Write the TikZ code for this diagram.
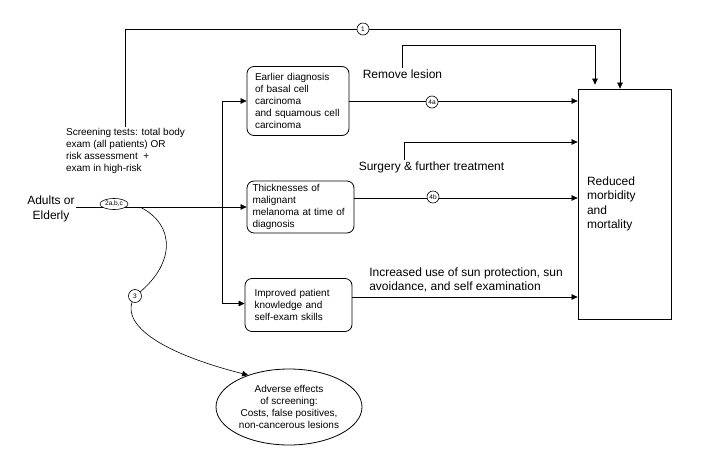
\documentclass[tikz,border=0pt]{standalone}
\usepackage{fontspec}
\setmainfont{Liberation Sans}
\usetikzlibrary{arrows.meta,positioning,shapes.geometric}

\begin{document}
\begin{tikzpicture}[x=1pt,y=-1pt,line width=0.6pt,
    >={Triangle[length=6pt,width=5.5pt]},
    box/.style={draw,line width=0.8pt,rounded corners=7pt,inner sep=0pt,
      align=left,font=\fontsize{10}{12}\selectfont},
    lbl/.style={align=left,inner sep=1pt,font=\fontsize{12}{14.5}\selectfont},
    kq/.style={draw,circle,fill=white,inner sep=0pt,minimum size=12pt,
      font=\fontsize{6.5}{6.5}\selectfont}]
  \useasboundingbox (0,0) rectangle (703,452);
  % Define nodes
  \node[lbl,align=center] (adults) at (51,209) {Adults or\\Elderly};
  \node[align=left,inner sep=1pt,font=\fontsize{10}{12}\selectfont] (screen) at (125.5,151)
    {Screening tests: total body\\exam (all patients) OR\\risk assessment \ +\\exam in high-risk};
  \node[box,minimum width=102pt,minimum height=69pt,text width=86pt] (diag) at (298,101)
    {Earlier diagnosis\\of basal cell\\carcinoma\\and squamous cell\\carcinoma};
  \node[box,minimum width=107pt,minimum height=52pt,text width=96pt] (thick) at (300.5,207)
    {Thicknesses of\\malignant\\melanoma at time of\\diagnosis};
  \node[box,minimum width=107pt,minimum height=53pt,text width=88pt] (know) at (298.5,305)
    {Improved patient\\knowledge and\\self-exam skills};
  \node[draw,line width=0.8pt,minimum width=93pt,minimum height=230pt,inner sep=0pt,
    text width=75pt,align=left,font=\fontsize{12}{14.5}\selectfont] (reduced) at (624.5,204)
    {Reduced\\morbidity\\and\\mortality};
  \node[draw,ellipse,line width=0.8pt,minimum width=146pt,minimum height=76pt,inner sep=0pt,
    align=center,font=\fontsize{10}{12}\selectfont] (adverse) at (289,407)
    {Adverse effects\\of screening:\\Costs, false positives,\\non-cancerous lesions};
  \node[lbl] (lesion) at (402.5,74) {Remove lesion};
  \node[lbl] (surgery) at (431.5,167) {Surgery \& further treatment};
  \node[lbl] (sun) at (466,280) {Increased use of sun protection, sun\\avoidance, and self examination};
  % Corners
  \coordinate (c1) at (620,29);
  \coordinate (c2) at (595,45);
  \coordinate (c3) at (404,142);
  \coordinate (split) at (222,207);
  \coordinate (fork) at (140,207);
  % Connectors
  \draw[->] (screen.north) |- (c1) -- (c1 |- reduced.north);
  \draw[->,shorten >=4pt] (lesion.north) |- (c2) -- (c2 |- reduced.north);
  \draw[->] (surgery.north -| c3) -- (c3) -- (c3 -| reduced.west);
  \draw[->] (adults.east |- split) -- (thick.west |- split);
  \draw[->] (diag.west -| split) -- (diag.west);
  \draw[->] (diag.west -| split) |- ([yshift=1.5pt]know.west);
  \draw[->] (diag.east) -- (diag.east -| reduced.west);
  \draw[->] ([yshift=9pt]thick.east) -- ([yshift=9pt]thick.east -| reduced.west);
  \draw[->] ([yshift=8pt]know.east) -- ([yshift=8pt]know.east -| reduced.west);
  \draw (fork) .. controls (176,225) and (176,265) .. (135,296);
  \draw[->] (135,296) .. controls (119,320) and (150,350) .. (adverse.142);
  % Key questions
  \node[kq] (k1) at (363,29) {1};
  \node[kq] (k4a) at (432,102) {4a};
  \node[kq] (k4b) at (433,197) {4b};
  \node[kq,minimum size=13pt] (k3) at (135,296) {3};
  \node[draw,ellipse,fill=white,inner sep=0pt,minimum width=28pt,minimum height=11pt,
    font=\fontsize{6.5}{6.5}\selectfont] (k2) at (114,204) {2a,b,c};
\end{tikzpicture}
\end{document}
